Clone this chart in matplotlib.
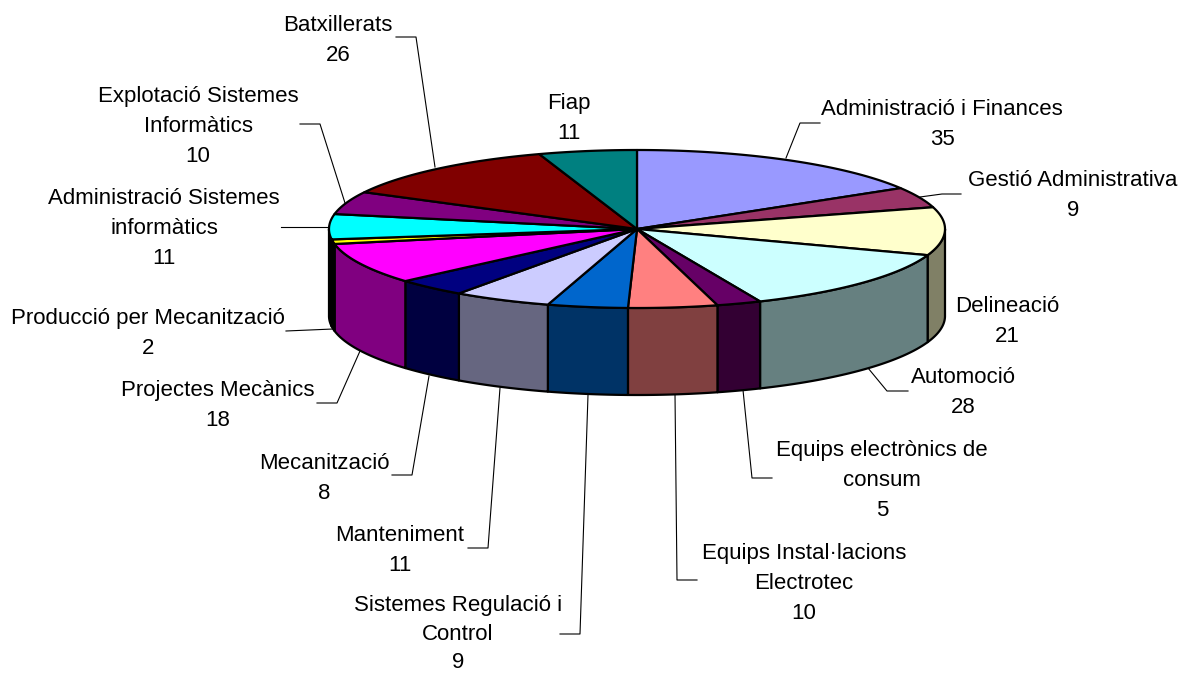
"""plot.py"""
import numpy as np
import matplotlib
matplotlib.use("Agg")
import matplotlib.pyplot as plt

# Dades del gràfic
names = ["Administració i Finances", "Gestió Administrativa", "Delineació", "Automoció",
         "Equips electrònics de\nconsum", "Equips Instal·lacions\nElectrotec",
         "Sistemes Regulació i\nControl", "Manteniment", "Mecanització", "Projectes Mecànics",
         "Producció per Mecanització", "Administració Sistemes\ninformàtics",
         "Explotació Sistemes\nInformàtics", "Batxillerats", "Fiap"]
values = [35, 9, 21, 28, 5, 10, 9, 11, 8, 18, 2, 11, 10, 26, 11]

top_colors = ["#9999FF", "#993366", "#FFFFCC", "#CCFFFF", "#660066", "#FF8080", "#0066CC", "#CCCCFF",
              "#000080", "#FF00FF", "#FFFF00", "#00FFFF", "#800080", "#800000", "#008080"]
side_colors = ["#4D4D80", "#4D1A33", "#808066", "#668080", "#330033", "#804040", "#003366", "#666680",
               "#000040", "#800080", "#000000", "#000000", "#400040", "#400000", "#004040"]

# Posició dels textos (centre x, base de la primera línia y) en píxels
label_x = [942, 1073, 1007, 963, 882, 804, 458, 400, 324, 218, 148, 164, 198, 338, 569]
label_y = [115, 186, 312, 383, 456, 559, 611, 541, 469, 396, 324, 204, 102, 31, 109]
label_step = [30, 30, 30, 30, 30, 30, 28.5, 30, 30, 30, 30, 30, 30, 30, 30]

# Línies guia
leaders = [
    [(820, 123), (800, 123), (786, 158)],
    [(961, 194), (942, 194), (920, 197)],
    [],
    [(908, 391), (887, 391), (868, 368)],
    [(772, 478), (752, 478), (743, 390)],
    [(697, 580), (677, 580), (675, 394)],
    [(560, 634), (580, 634), (588, 395)],
    [(468, 548), (488, 548), (500, 388)],
    [(392, 475), (412, 475), (429, 376)],
    [(317, 403), (337, 403), (360, 351)],
    [(286, 331), (333, 329)],
    [(281, 227), (330, 227)],
    [(300, 124), (320, 124), (345, 203)],
    [(396, 37), (416, 37), (435, 167)],
    [],
]

# Geometria del pastís
cx, cy = 637, 229
rx, ry = 308, 79
depth = 87
edge = 1.6

fig = plt.figure(figsize=(11.82, 6.73), dpi=100)
ax = fig.add_axes([0, 0, 1, 1])
ax.set_xlim(0, 1182)
ax.set_ylim(673, 0)
ax.axis("off")


def rim(a0, a1):
    t = np.linspace(a0, a1, 80)
    return cx + rx * np.sin(t), cy - ry * np.cos(t)


angles = np.concatenate([[0], np.cumsum(values)]) / sum(values) * 2 * np.pi

for pts in leaders:
    if pts:
        xs, ys = zip(*pts)
        ax.plot(xs, ys, color="black", lw=0.8, zorder=1)

# Parets laterals (només la meitat frontal)
for i in range(len(values)):
    a0 = max(angles[i], np.pi / 2)
    a1 = min(angles[i + 1], 3 * np.pi / 2)
    if a1 <= a0:
        continue
    x, y = rim(a0, a1)
    ax.fill(np.r_[x, x[::-1]], np.r_[y, y[::-1] + depth], facecolor=side_colors[i],
            edgecolor="black", lw=edge, joinstyle="round", zorder=2)

# Cara superior
for i in range(len(values)):
    x, y = rim(angles[i], angles[i + 1])
    ax.fill(np.r_[cx, x], np.r_[cy, y], facecolor=top_colors[i],
            edgecolor="black", lw=edge, joinstyle="round", zorder=3)

# Etiquetes, línia a línia
for i, name in enumerate(names):
    lines = name.split("\n") + [str(values[i])]
    for k, line in enumerate(lines):
        ax.text(label_x[i], label_y[i] + k * label_step[i], line, ha="center", va="baseline",
                family="Liberation Sans", fontsize=16, color="black", zorder=4)

fig.savefig("out.png", dpi=100)
